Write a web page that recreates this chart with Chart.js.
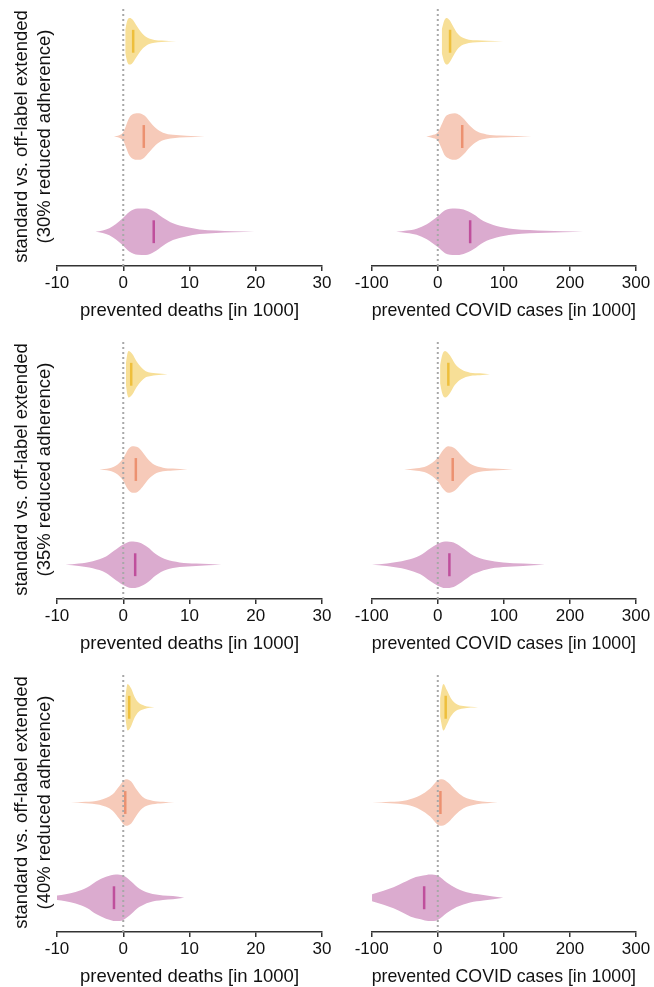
<!DOCTYPE html>
<html>
<head>
<meta charset="utf-8">
<script src="https://cdn.jsdelivr.net/npm/chart.js@4.4.0/dist/chart.umd.min.js"></script>
<style>
  body { margin: 0; background: #fff; overflow: hidden; width: 654px; height: 987px; position: relative; }
  canvas { position: absolute; }
</style>
</head>
<body>
<canvas id="p00" width="345" height="333" style="left:0;top:0"></canvas>
<canvas id="p01" width="324" height="333" style="left:330px;top:0"></canvas>
<canvas id="p10" width="345" height="333" style="left:0;top:333px"></canvas>
<canvas id="p11" width="324" height="333" style="left:330px;top:333px"></canvas>
<canvas id="p20" width="345" height="333" style="left:0;top:666px"></canvas>
<canvas id="p21" width="324" height="333" style="left:330px;top:666px"></canvas>
<script>
// violin outlines: [value, relative density], yellow / salmon / purple
const dY30 = [[0.3,0.5],[0.65,0.92],[1.0,1.0],[1.4,0.93],[1.9,0.72],[2.4,0.5],[2.9,0.32],[3.3,0.22],[3.9,0.12],[4.7,0.06],[5.8,0.03],[8.0,0]];
const dS30 = [[-1.4,0],[-0.6,0.05],[0,0.18],[0.4,0.45],[0.9,0.8],[1.6,0.97],[2.4,1.0],[3.2,0.9],[3.9,0.68],[4.9,0.36],[6.0,0.16],[7.5,0.07],[9.5,0.035],[12.3,0]];
const dP30 = [[-4.2,0],[-3.1,0.05],[-2.1,0.15],[-1.1,0.33],[0,0.6],[0.9,0.85],[2.2,0.99],[3.4,1.0],[4.7,0.86],[6.0,0.6],[7.5,0.36],[9.5,0.2],[11.5,0.1],[14.0,0.055],[16.6,0.025],[19.8,0]];
const dMed30 = [1.5, 3.1, 4.6];

const cY30 = [[6,0.5],[10,0.9],[13.6,1.0],[18,0.9],[23,0.65],[28.6,0.38],[34,0.22],[39,0.14],[47,0.07],[59,0.04],[75,0.02],[99,0]];
const cS30 = [[-17.6,0],[-9,0.05],[0,0.18],[6,0.52],[11,0.83],[18,0.96],[26,1.0],[33,0.92],[40,0.74],[49,0.45],[59,0.22],[74,0.09],[94,0.045],[119,0.02],[142,0]];
const cP30 = [[-63,0],[-47,0.05],[-32,0.13],[-16.6,0.32],[0,0.66],[11,0.92],[26,1.0],[39,0.95],[54,0.75],[69,0.46],[89,0.25],[114,0.12],[139,0.07],[164,0.04],[189,0.02],[220,0]];
const cMed30 = [18.6, 37, 49];

const dY35 = [[0.4,0.45],[0.6,0.85],[0.8,1.0],[1.4,0.86],[2.0,0.56],[2.7,0.3],[3.4,0.13],[4.2,0.07],[4.9,0.045],[6.7,0]];
const dS35 = [[-3.6,0],[-2.1,0.05],[-0.9,0.2],[0,0.48],[0.7,0.85],[1.4,1.0],[2.2,0.95],[2.9,0.75],[3.7,0.45],[4.7,0.2],[6.0,0.08],[7.5,0.04],[9.7,0]];
const dP35 = [[-8.7,0],[-6.7,0.05],[-4.6,0.15],[-2.6,0.35],[-1.4,0.6],[0,0.87],[1.2,1.0],[2.4,0.95],[3.7,0.75],[4.9,0.46],[6.5,0.22],[8.5,0.1],[11.0,0.05],[14.8,0]];
const dMed35 = [1.2, 1.9, 1.8];

const cY35 = [[3.5,0.4],[7,0.85],[11,1.0],[18.6,0.8],[26,0.45],[36,0.2],[49,0.07],[64,0.04],[79,0]];
const cS35 = [[-51,0],[-32,0.05],[-16.6,0.15],[0,0.5],[8.5,0.85],[16,1.0],[26,0.9],[36,0.6],[49,0.25],[64,0.1],[84,0.04],[114,0]];
const cP35 = [[-99.5,0],[-77,0.05],[-47,0.2],[-27,0.4],[-11.6,0.7],[0,0.9],[11,1.0],[24,0.95],[36,0.75],[54,0.4],[74,0.2],[99,0.1],[129,0.05],[162,0]];
const cMed35 = [16, 22.6, 17.6];

const dY40 = [[0.3,0.4],[0.65,1.0],[1.2,0.8],[1.7,0.45],[2.3,0.2],[3.2,0.07],[4.7,0]];
const dS40 = [[-7.9,0],[-5.7,0.03],[-3.6,0.1],[-1.6,0.35],[-0.6,0.7],[0.4,1.0],[1.2,0.9],[1.9,0.6],[2.9,0.25],[4.4,0.08],[6.0,0.03],[7.7,0]];
const dP40 = [[-10,0.1],[-8.7,0.15],[-7.2,0.25],[-5.4,0.45],[-4.1,0.7],[-2.6,0.9],[-1.1,1.0],[0,0.95],[1.2,0.7],[2.4,0.4],[3.9,0.2],[6.0,0.1],[7.5,0.07],[9.2,0]];
const dMed40 = [0.9, 0.3, -1.4];

const cY40 = [[3.5,0.4],[8.5,1.0],[13.6,0.75],[19.6,0.4],[27.6,0.15],[38.7,0.05],[61,0]];
const cS40 = [[-99.5,0],[-72,0.03],[-47,0.1],[-27,0.3],[-11.6,0.6],[0,0.95],[6,1.0],[16,0.85],[26,0.55],[39,0.25],[59,0.08],[91,0]];
const cP40 = [[-99.5,0.15],[-82,0.3],[-67,0.45],[-52,0.65],[-37,0.85],[-22,0.95],[-11.6,1.0],[0,0.95],[13.6,0.65],[28.6,0.4],[49,0.2],[69,0.12],[99,0]];
const cMed40 = [12, 4, -20.6];

const deathTicks = [-10, 30, 10];
const caseTicks = [-100, 300, 100];
const rowLabels = ["(30% reduced adherence)", "(35% reduced adherence)", "(40% reduced adherence)"];
const yTitle = "standard vs. off-label extended";

const FONT = "'Liberation Sans', Helvetica, Arial, sans-serif";
const centers = [3, 2, 1];
const fills = ["#f7df97", "#f6cab9", "#dbabcf"];
const darks = ["#eebf3c", "#ec9170", "#bf4f9c"];
const HALF = 0.245;

function panel(id, shapes, medians, xr, xTitle, rowLabel) {
  const isLeft = rowLabel !== null;
  const ds = [{
    data: [{x: 0, y: 0.64}, {x: 0, y: 3.36}],
    showLine: true, borderColor: "#a8a8a8", borderWidth: 2, borderDash: [2, 3], pointRadius: 0
  }];
  shapes.forEach((pts, i) => {
    const c = centers[i];
    ds.push({
      data: [{x: medians[i], y: c - 0.12}, {x: medians[i], y: c + 0.12}],
      showLine: true, borderColor: darks[i], borderWidth: 2.5, pointRadius: 0
    });
    ds.push({
      data: pts.map(p => ({x: p[0], y: c + p[1] * HALF})),
      showLine: true, borderColor: "rgba(0,0,0,0)", borderWidth: 0.01, pointRadius: 0,
      cubicInterpolationMode: "monotone", fill: false
    });
    ds.push({
      data: pts.map(p => ({x: p[0], y: c - p[1] * HALF})),
      showLine: true, borderColor: "rgba(0,0,0,0)", borderWidth: 0.01, pointRadius: 0,
      cubicInterpolationMode: "monotone", fill: "-1", backgroundColor: fills[i]
    });
  });

  new Chart(document.getElementById(id), {
    type: "scatter",
    data: { datasets: ds },
    options: {
      responsive: false,
      animation: false,
      devicePixelRatio: 1,
      layout: { padding: { left: isLeft ? 0 : 41.7, right: isLeft ? 23 : 18, top: 7, bottom: 0 } },
      plugins: { legend: { display: false }, tooltip: { enabled: false } },
      scales: {
        x: {
          type: "linear", min: xr[0], max: xr[1],
          afterFit: s => { s.height = 67; },
          ticks: { stepSize: xr[2], color: "#111", padding: 2, maxRotation: 0, font: { family: FONT, size: 17 } },
          grid: { display: true, drawOnChartArea: false, drawTicks: true, tickLength: 5, color: "#333", lineWidth: 1.5 },
          border: { display: true, color: "#333", width: 1.5 },
          title: { display: true, text: xTitle, color: "#111", font: { family: FONT, size: 18.5, lineHeight: 1.2 }, padding: { top: 0, bottom: 11 } }
        },
        y: {
          type: "linear", min: 0.64, max: 3.36, display: isLeft,
          afterFit: s => { s.width = isLeft ? 57 : 0; },
          ticks: { display: false },
          grid: { display: false },
          border: { display: false },
          title: { display: isLeft, text: [yTitle, rowLabel], color: "#111", font: { family: FONT, size: 18.5, lineHeight: 1.24 }, padding: { top: 10.5, bottom: 0 } }
        }
      }
    }
  });
}

panel("p00", [dY30, dS30, dP30], dMed30, deathTicks, "prevented deaths [in 1000]", rowLabels[0]);
panel("p01", [cY30, cS30, cP30], cMed30, caseTicks, "prevented COVID cases [in 1000]", null);
panel("p10", [dY35, dS35, dP35], dMed35, deathTicks, "prevented deaths [in 1000]", rowLabels[1]);
panel("p11", [cY35, cS35, cP35], cMed35, caseTicks, "prevented COVID cases [in 1000]", null);
panel("p20", [dY40, dS40, dP40], dMed40, deathTicks, "prevented deaths [in 1000]", rowLabels[2]);
panel("p21", [cY40, cS40, cP40], cMed40, caseTicks, "prevented COVID cases [in 1000]", null);
</script>
</body>
</html>
